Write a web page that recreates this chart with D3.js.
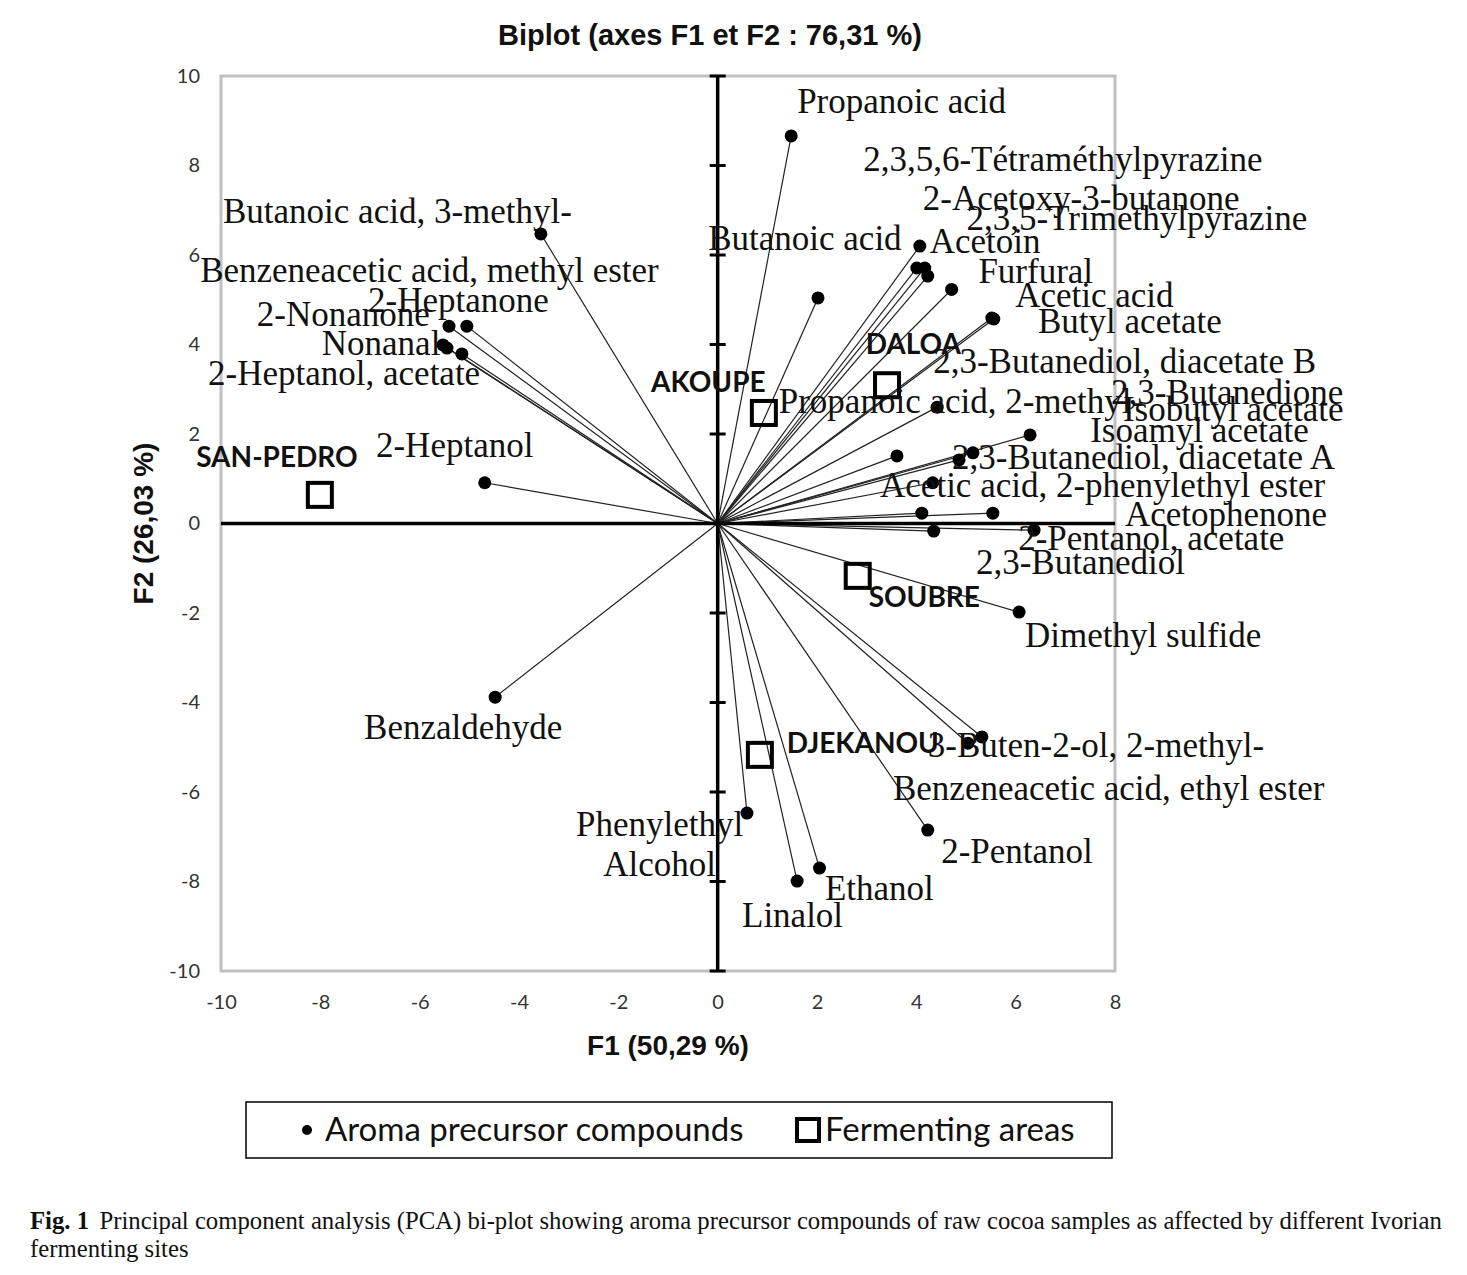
<!DOCTYPE html>
<html>
<head>
<meta charset="utf-8">
<script src="https://cdn.jsdelivr.net/npm/d3@7"></script>
<style>
  html, body { margin: 0; padding: 0; background: #fff; }
  svg { display: block; }
</style>
</head>
<body>
<svg id="chart" width="1467" height="1275"></svg>
<script>
// ---------------- DATA ----------------
const compounds = [
  "Propanoic acid", "2,3,5,6-Tétraméthylpyrazine", "2-Acetoxy-3-butanone", "2,3,5-Trimethylpyrazine",
  "Butanoic acid", "Acetoin", "Furfural", "Acetic acid", "Butyl acetate",
  "2,3-Butanediol, diacetate B", "2,3-Butanedione", "Isobutyl acetate", "Isoamyl acetate",
  "Propanoic acid, 2-methyl-", "2,3-Butanediol, diacetate A", "Acetic acid, 2-phenylethyl ester",
  "Acetophenone", "2-Pentanol, acetate", "2,3-Butanediol", "Dimethyl sulfide",
  "3-Buten-2-ol, 2-methyl-", "Benzeneacetic acid, ethyl ester", "2-Pentanol", "Ethanol", "Linalol",
  "Phenylethyl\nAlcohol",
  "Butanoic acid, 3-methyl-", "Benzeneacetic acid, methyl ester", "2-Heptanone", "2-Nonanone",
  "Nonanal", "2-Heptanol, acetate", "2-Heptanol", "Benzaldehyde"
];
const f1 = [
  1.48, 4.01, 4.17, 4.23,
  2.02, 4.07, 4.71, 5.56, 5.52,
  3.61, 6.29, 5.14, 4.86,
  4.42, 4.33, 4.11,
  5.54, 6.37, 4.35, 6.07,
  5.04, 5.32, 4.23, 2.05, 1.60,
  0.59,
  -3.56, -5.41, -5.05, -5.45,
  -5.53, -5.15, -4.69, -4.48
];
const f2 = [
  8.66, 5.71, 5.71, 5.53,
  5.04, 6.20, 5.23, 4.57, 4.59,
  1.51, 1.98, 1.58, 1.42,
  2.60, 0.91, 0.23,
  0.23, -0.15, -0.17, -1.98,
  -4.91, -4.77, -6.85, -7.70, -7.99,
  -6.47,
  6.47, 4.41, 4.41, 3.92,
  3.99, 3.79, 0.91, -3.88
];
// label anchor points (in F1/F2 units)
const labelF1 = [
  1.60, 2.93, 4.13, 5.01,
  -0.19, 4.27, 5.25, 5.99, 6.45,
  4.34, 7.92, 8.16, 7.50,
  1.23, 4.72, 3.27,
  8.20, 6.05, 5.20, 6.19,
  4.23, 3.53, 4.50, 2.16, 0.49,
  -1.17,
  -9.96, -10.42, -7.04, -9.28,
  -7.97, -10.26, -6.88, -7.12
];
const labelF2 = [
  9.17, 7.88, 7.01, 6.56,
  6.11, 6.04, 5.38, 4.84, 4.25,
  3.37, 2.67, 2.30, 1.82,
  2.47, 1.22, 0.59,
  -0.06, -0.59, -1.13, -2.76,
  -5.22, -6.18, -7.59, -8.41, -9.02,
  -6.99,
  6.72, 5.40, 4.73, 4.41,
  3.77, 3.09, 1.49, -4.82
];
const labelAnchor = compounds.map(c => c.includes("\n") ? "middle" : "start");

const sites = ["SAN-PEDRO", "AKOUPE", "DALOA", "SOUBRE", "DJEKANOU"];
const siteF1 = [-8.01, 0.93, 3.41, 2.82, 0.85];
const siteF2 = [0.64, 2.47, 3.09, -1.17, -5.17];
const siteLabelF1 = [-10.50, -1.34, 2.98, 3.04, 1.39];
const siteLabelF2 = [1.26, 2.94, 3.79, -1.87, -5.13];

const xTickValues = [-10, -8, -6, -4, -2, 0, 2, 4, 6, 8];
const yTickValues = [-10, -8, -6, -4, -2, 0, 2, 4, 6, 8, 10];

const chartTitle = "Biplot (axes F1 et F2 : 76,31 %)";
const xTitle = "F1 (50,29 %)";
const yTitle = "F2 (26,03 %)";
const legendItems = ["Aroma precursor compounds", "Fermenting areas"];
const captionBold = "Fig. 1";
const captionLine1 = "Principal component analysis (PCA) bi-plot showing aroma precursor compounds of raw cocoa samples as affected by different Ivorian";
const captionLine2 = "fermenting sites";

// ---------------- DRAW ----------------
const svg = d3.select("#chart");
const plotL = 221, plotR = 1115, plotT = 76, plotB = 971;
const x = d3.scaleLinear().domain([-10, 8]).range([plotL, plotR]);
const y = d3.scaleLinear().domain([-10, 10]).range([plotB, plotT]);

const serif = "'Liberation Serif', 'Times New Roman', serif";
const sans = "'Liberation Sans', Arial, sans-serif";
const calib = "Lato, 'Open Sans', sans-serif";
const fmt = d => String(d);

svg.append("rect").attr("width", 1467).attr("height", 1275).attr("fill", "#fff");

// title
svg.append("text").attr("x", 710).attr("y", 45).attr("text-anchor", "middle")
  .attr("font-family", sans).attr("font-weight", "bold").attr("font-size", 29)
  .attr("fill", "#111").text(chartTitle);

// plot frame
svg.append("rect").attr("x", plotL).attr("y", plotT).attr("width", plotR - plotL).attr("height", plotB - plotT)
  .attr("fill", "none").attr("stroke", "#c0c0c0").attr("stroke-width", 3);

// tick labels via axes
const yAxis = svg.append("g").attr("transform", `translate(${plotL},0)`)
  .call(d3.axisLeft(y).tickValues(yTickValues).tickSize(0).tickPadding(21).tickFormat(fmt));
yAxis.select(".domain").remove();
yAxis.selectAll("text").attr("font-family", calib).attr("font-size", 20).attr("fill", "#333");

const xAxis = svg.append("g").attr("transform", `translate(0,${plotB})`)
  .call(d3.axisBottom(x).tickValues(xTickValues).tickSize(0).tickPadding(24).tickFormat(fmt));
xAxis.select(".domain").remove();
xAxis.selectAll("text").attr("font-family", calib).attr("font-size", 20).attr("fill", "#333");

// axis titles
svg.append("text").attr("x", 668).attr("y", 1055).attr("text-anchor", "middle")
  .attr("font-family", sans).attr("font-weight", "bold").attr("font-size", 28).attr("fill", "#111").text(xTitle);
svg.append("text").attr("transform", `translate(153,${y(0)}) rotate(-90)`).attr("text-anchor", "middle")
  .attr("font-family", sans).attr("font-weight", "bold").attr("font-size", 28).attr("fill", "#111").text(yTitle);

// vectors
const idx = d3.range(compounds.length);
svg.append("g").selectAll("line").data(idx).join("line")
  .attr("x1", x(0)).attr("y1", y(0))
  .attr("x2", i => x(f1[i])).attr("y2", i => y(f2[i]))
  .attr("stroke", "#222").attr("stroke-width", 1.2);

// central axes
svg.append("line").attr("x1", x(-10)).attr("x2", x(8)).attr("y1", y(0)).attr("y2", y(0))
  .attr("stroke", "#000").attr("stroke-width", 3.5);
svg.append("line").attr("x1", x(0)).attr("x2", x(0)).attr("y1", y(10)).attr("y2", y(-10))
  .attr("stroke", "#000").attr("stroke-width", 3.5);
svg.append("g").selectAll("line").data(yTickValues.filter(v => v !== 0)).join("line")
  .attr("x1", x(0) - 8).attr("x2", x(0) + 8).attr("y1", d => y(d)).attr("y2", d => y(d))
  .attr("stroke", "#000").attr("stroke-width", 3);

// points
svg.append("g").selectAll("circle").data(idx).join("circle")
  .attr("cx", i => x(f1[i])).attr("cy", i => y(f2[i])).attr("r", 6.5).attr("fill", "#000");

// sites
const sIdx = d3.range(sites.length);
svg.append("g").selectAll("rect").data(sIdx).join("rect")
  .attr("x", i => x(siteF1[i]) - 12).attr("y", i => y(siteF2[i]) - 12)
  .attr("width", 24).attr("height", 24)
  .attr("fill", "none").attr("stroke", "#000").attr("stroke-width", 4);

// compound labels
const lab = svg.append("g").attr("font-family", serif).attr("font-size", 35).attr("fill", "#111");
idx.forEach(i => {
  const lines = compounds[i].split("\n");
  const t = lab.append("text").attr("x", x(labelF1[i])).attr("y", y(labelF2[i]))
    .attr("text-anchor", labelAnchor[i]);
  lines.forEach((l, k) => {
    t.append("tspan").attr("x", x(labelF1[i])).attr("dy", k === 0 ? 0 : 40).text(l);
  });
});

// site labels
svg.append("g").selectAll("text").data(sIdx).join("text")
  .attr("x", i => x(siteLabelF1[i])).attr("y", i => y(siteLabelF2[i]))
  .attr("font-family", calib).attr("font-weight", "bold").attr("font-size", 28).attr("fill", "#111")
  .text(i => sites[i]);

// legend
const lg = svg.append("g");
lg.append("rect").attr("x", 246).attr("y", 1102).attr("width", 866).attr("height", 56)
  .attr("fill", "#fff").attr("stroke", "#000").attr("stroke-width", 1.5);
lg.append("circle").attr("cx", 307).attr("cy", 1130).attr("r", 5).attr("fill", "#000");
lg.append("text").attr("x", 325).attr("y", 1141).attr("font-family", calib).attr("font-size", 33)
  .attr("fill", "#111").text(legendItems[0]);
lg.append("rect").attr("x", 797).attr("y", 1119).attr("width", 22).attr("height", 22)
  .attr("fill", "none").attr("stroke", "#000").attr("stroke-width", 4);
lg.append("text").attr("x", 825).attr("y", 1141).attr("font-family", calib).attr("font-size", 33)
  .attr("fill", "#111").text(legendItems[1]);

// caption
const capX = 30, capGap = 11, capTarget = 1413 - capGap;
const cap1 = svg.append("text").attr("font-family", serif).attr("font-size", 26).attr("fill", "#111");
cap1.append("tspan").attr("font-weight", "bold").text(captionBold);
cap1.append("tspan").attr("dx", capGap).text(captionLine1);
const natural = cap1.node().getComputedTextLength();
let sx = 1;
if (natural > capTarget) {
  sx = capTarget / natural;
} else {
  const nSpaces = (captionBold + " " + captionLine1).split(" ").length - 1;
  cap1.attr("word-spacing", (capTarget - natural) / nSpaces);
}
cap1.attr("transform", `translate(${capX},1229) scale(${sx},1)`);
svg.append("text").attr("transform", `translate(${capX},1257) scale(${sx},1)`)
  .attr("font-family", serif).attr("font-size", 26).attr("fill", "#111").text(captionLine2);
</script>
</body>
</html>
